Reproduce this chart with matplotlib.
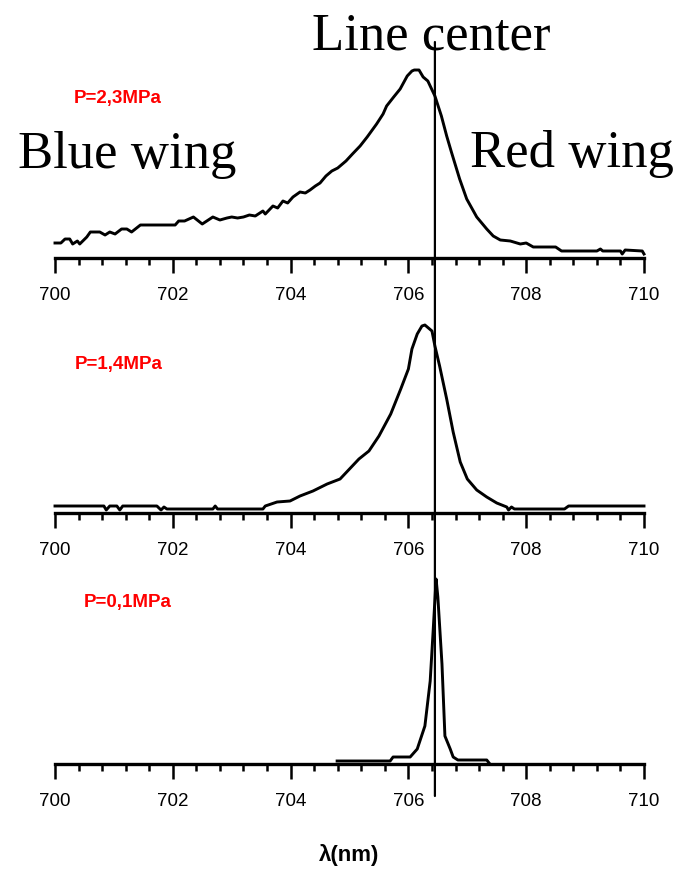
#!/usr/bin/env python3
"""Emission line profiles at three pressures, with the line center marked."""

import matplotlib
matplotlib.use("Agg")
import matplotlib.pyplot as plt
from matplotlib.patches import ConnectionPatch
from matplotlib.ticker import MultipleLocator

# --- data (intensity in arbitrary units, 0..1 of panel height) ---
wl_23 = [700.0, 700.1, 700.17, 700.25, 700.3, 700.38, 700.42, 700.54, 700.6, 700.76,
         700.85, 700.93, 701.02, 701.13, 701.22, 701.3, 701.45, 702.04, 702.1, 702.2,
         702.35, 702.5, 702.68, 702.8, 702.92, 703.0, 703.1, 703.2, 703.3, 703.4,
         703.53, 703.57, 703.7, 703.78, 703.87, 703.95, 704.04, 704.16, 704.25, 704.33,
         704.42, 704.5, 704.6, 704.7, 704.8, 704.94, 705.05, 705.18, 705.3, 705.46,
         705.57, 705.63, 705.75, 705.86, 705.98, 706.06, 706.1, 706.18, 706.25, 706.33,
         706.45, 706.56, 706.65, 706.73, 706.87, 706.99, 707.16, 707.33, 707.44, 707.56,
         707.73, 707.9, 708.0, 708.12, 708.5, 708.6, 709.2, 709.26, 709.3, 709.6,
         709.63, 709.68, 709.97, 710.0]
int_23 = [0.075, 0.075, 0.095, 0.095, 0.07, 0.085, 0.07, 0.105, 0.13, 0.13,
          0.115, 0.13, 0.12, 0.145, 0.145, 0.13, 0.165, 0.165, 0.185, 0.185,
          0.205, 0.17, 0.205, 0.19, 0.2, 0.205, 0.2, 0.205, 0.215, 0.21,
          0.235, 0.22, 0.26, 0.25, 0.285, 0.275, 0.305, 0.33, 0.325, 0.34,
          0.36, 0.375, 0.41, 0.435, 0.45, 0.485, 0.52, 0.56, 0.605, 0.67,
          0.72, 0.76, 0.805, 0.845, 0.91, 0.935, 0.94, 0.94, 0.905, 0.885,
          0.81, 0.71, 0.61, 0.53, 0.395, 0.295, 0.205, 0.145, 0.11, 0.09,
          0.085, 0.07, 0.075, 0.055, 0.055, 0.035, 0.035, 0.045, 0.035, 0.035,
          0.02, 0.04, 0.035, 0.02]

wl_14 = [700.0, 700.83, 700.87, 700.93, 701.05, 701.1, 701.15, 701.73, 701.8, 701.85,
         701.9, 702.68, 702.72, 702.76, 703.53, 703.57, 703.77, 703.99, 704.16, 704.38,
         704.62, 704.84, 705.0, 705.16, 705.33, 705.5, 705.7, 705.87, 706.0, 706.06,
         706.15, 706.23, 706.28, 706.4, 706.45, 706.53, 706.65, 706.76, 706.88, 707.0,
         707.16, 707.33, 707.5, 707.67, 707.7, 707.75, 707.8, 708.65, 708.72, 710.0]
int_14 = [0.035, 0.035, 0.015, 0.035, 0.035, 0.015, 0.035, 0.035, 0.015, 0.03,
          0.02, 0.02, 0.035, 0.02, 0.02, 0.035, 0.055, 0.06, 0.085, 0.11,
          0.145, 0.17, 0.22, 0.27, 0.31, 0.385, 0.495, 0.62, 0.72, 0.82,
          0.895, 0.935, 0.94, 0.91, 0.835, 0.735, 0.57, 0.405, 0.255, 0.17,
          0.115, 0.08, 0.05, 0.03, 0.015, 0.03, 0.02, 0.02, 0.035, 0.035]

wl_01 = [704.79, 704.84, 705.69, 705.74, 706.03, 706.15, 706.28, 706.37, 706.42, 706.47,
         706.5, 706.57, 706.62, 706.71, 706.76, 706.84, 707.33, 707.37]
int_01 = [0.015, 0.015, 0.015, 0.035, 0.035, 0.075, 0.19, 0.415, 0.665, 0.925,
          0.835, 0.5, 0.14, 0.075, 0.035, 0.02, 0.02, 0.005]

panels = [
    ("P=2,3MPa", wl_23, int_23, 700.31, 0.805),
    ("P=1,4MPa", wl_14, int_14, 700.34, 0.745),
    ("P=0,1MPa", wl_01, int_01, 700.48, 0.81),
]
LINE_CENTER = 706.45

W, H = 688, 879
SANS = ["Liberation Sans", "DejaVu Sans"]
SERIF = ["Liberation Serif", "DejaVu Serif"]


def main():
    fig = plt.figure(figsize=(W / 100, H / 100), dpi=100)
    bottoms_px = [259, 514, 765]
    axes = []
    for (label, wl, inten, lx, ly), b in zip(panels, bottoms_px):
        ax = fig.add_axes([55 / W, 1 - b / H, 589 / W, 200 / H])
        ax.plot(wl, inten, color="black", lw=2.1, clip_on=False)
        ax.set_xlim(700, 710)
        ax.set_ylim(0, 1)
        for s in ("left", "right", "top"):
            ax.spines[s].set_visible(False)
        ax.spines["bottom"].set_linewidth(2.4)
        ax.set_yticks([])
        ax.xaxis.set_major_locator(MultipleLocator(2))
        ax.xaxis.set_minor_locator(MultipleLocator(0.4))
        ax.tick_params(axis="x", which="major", length=10.5, width=1.8, pad=10, labelsize=13.5)
        ax.tick_params(axis="x", which="minor", length=5, width=1.8)
        for t in ax.get_xticklabels():
            t.set_family(SANS)
        ax.text(lx, ly, label, color="red", fontsize=13.5, fontweight="bold",
                family=SANS, va="center", ha="left")
        axes.append(ax)

    # vertical line marking the line center, running through all panels
    con = ConnectionPatch(xyA=(LINE_CENTER, 1.08), coordsA=axes[0].get_xaxis_transform(),
                          xyB=(LINE_CENTER, -0.16), coordsB=axes[2].get_xaxis_transform(),
                          color="black", lw=1.6)
    fig.add_artist(con)

    fig.text(431 / W, 1 - 49 / H, "Line center", family=SERIF, fontsize=38,
             ha="center", va="baseline")
    fig.text(18 / W, 1 - 168 / H, "Blue wing", family=SERIF, fontsize=38,
             ha="left", va="baseline")
    fig.text(470 / W, 1 - 167 / H, "Red wing", family=SERIF, fontsize=38,
             ha="left", va="baseline")
    fig.text(349 / W, 1 - 855 / H, "λ(nm)", family=SANS, fontsize=16,
             fontweight="bold", ha="center", va="center")

    fig.savefig("out.png", dpi=100)


if __name__ == "__main__":
    main()
